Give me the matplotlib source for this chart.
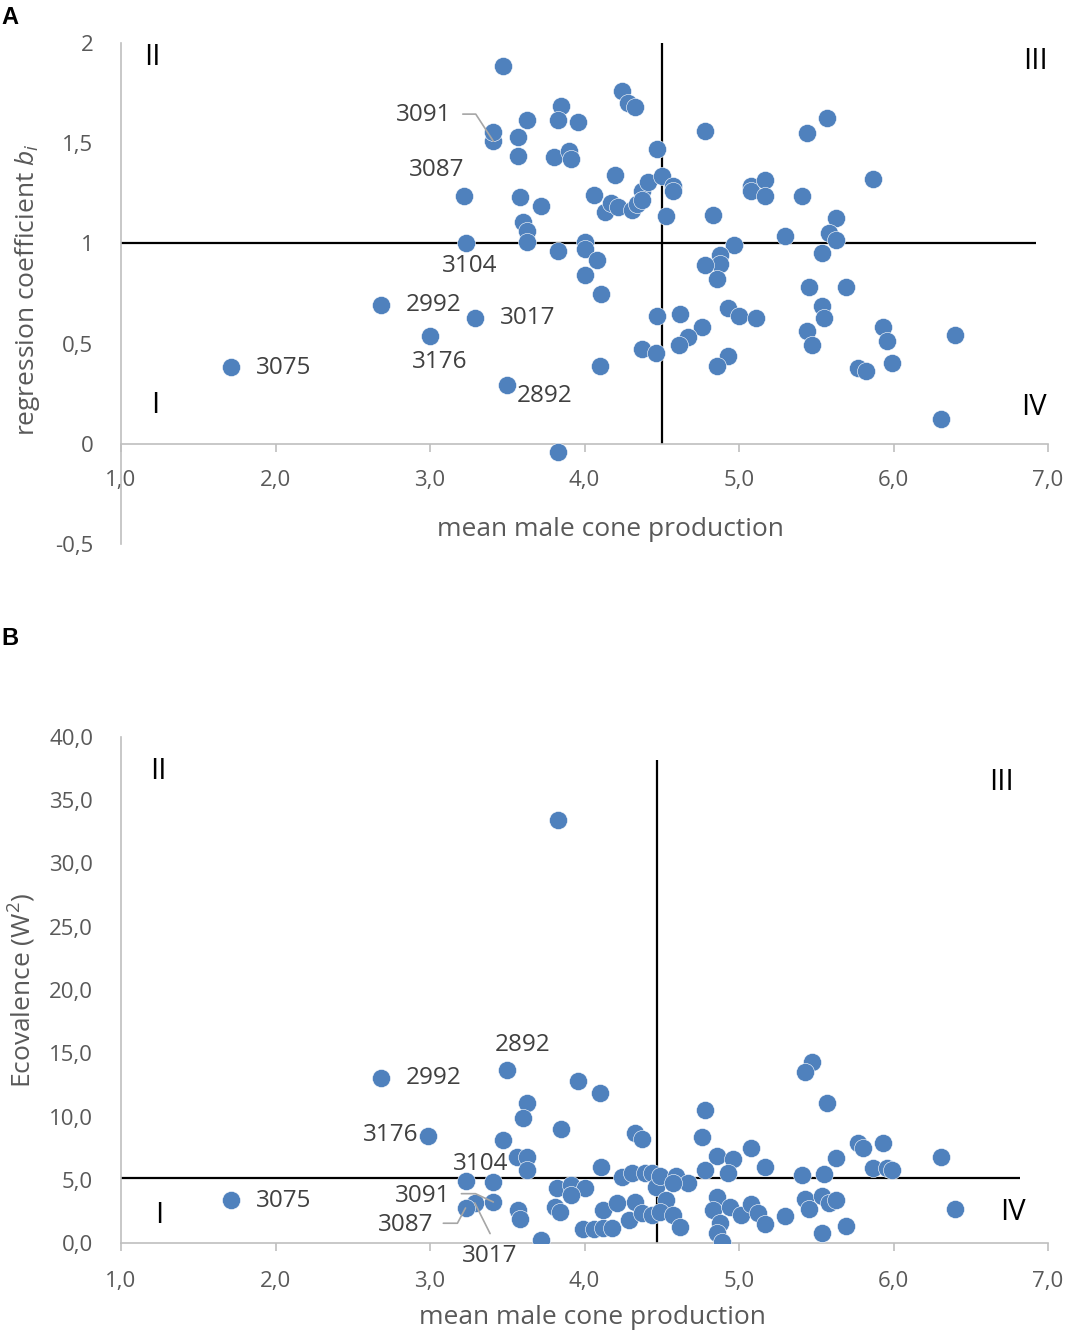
import matplotlib
matplotlib.use('Agg')
import matplotlib.pyplot as plt

# labelled clones come first in every array below
clones = ['3075', '2992', '3176', '3017', '3104', '3087', '3091', '2892']

# panel A: mean male cone production vs regression coefficient b_i
xa = [1.71, 2.68, 3.00, 3.29, 3.23, 3.22, 3.41, 3.50,
      3.47, 3.41, 3.57, 3.57, 3.63, 3.85, 3.83, 3.96, 3.80, 3.90, 3.91,
      4.24, 4.28, 4.33, 4.47, 4.20, 3.58, 3.72, 3.60, 3.63, 3.63, 3.83,
      4.00, 4.00, 4.08, 4.00, 4.11, 4.06, 4.13, 4.17, 4.22, 4.31, 4.34,
      4.37, 4.41, 4.37, 4.50, 4.57, 4.57, 4.53, 4.78, 4.83, 4.97, 4.88,
      4.88, 4.78, 4.86, 5.08, 5.08, 5.17, 5.17, 5.30, 5.41, 5.44, 5.57,
      5.63, 5.58, 5.63, 5.54, 5.87, 5.45, 5.69, 5.54, 5.55, 5.44, 5.47,
      5.93, 5.96, 5.77, 5.82, 5.99, 6.40, 6.31, 4.47, 4.62, 4.76, 4.67,
      4.61, 4.37, 4.46, 4.93, 5.00, 5.11, 4.93, 4.86, 4.10, 3.83]
ba = [0.385, 0.695, 0.54, 0.63, 1.00, 1.235, 1.51, 0.295,
      1.885, 1.555, 1.53, 1.435, 1.615, 1.685, 1.615, 1.605, 1.43, 1.46, 1.42,
      1.76, 1.70, 1.68, 1.47, 1.34, 1.23, 1.185, 1.105, 1.06, 1.005, 0.96,
      1.005, 0.97, 0.915, 0.84, 0.75, 1.24, 1.155, 1.20, 1.18, 1.165, 1.195,
      1.26, 1.305, 1.215, 1.335, 1.285, 1.26, 1.135, 1.56, 1.14, 0.99, 0.94,
      0.895, 0.89, 0.82, 1.285, 1.26, 1.315, 1.235, 1.035, 1.235, 1.55, 1.625,
      1.125, 1.05, 1.015, 0.95, 1.32, 0.78, 0.78, 0.69, 0.63, 0.565, 0.495,
      0.585, 0.515, 0.38, 0.365, 0.405, 0.545, 0.125, 0.64, 0.65, 0.585, 0.535,
      0.495, 0.475, 0.455, 0.68, 0.64, 0.63, 0.44, 0.39, 0.39, -0.04]

# panel B: mean male cone production vs ecovalence W2
xb = [1.71, 2.68, 2.99, 3.29, 3.23, 3.23, 3.41, 3.50,
      3.47, 3.63, 3.60, 3.96, 4.10, 3.85, 4.33, 4.37, 3.56, 3.63, 3.63,
      4.11, 3.41, 3.57, 3.58, 3.72, 3.82, 3.91, 4.00, 3.91, 3.81, 3.84,
      3.99, 4.06, 4.12, 4.18, 4.12, 4.21, 4.33, 4.29, 4.37, 4.44, 4.24,
      4.31, 4.39, 4.44, 4.46, 4.49, 4.59, 4.67, 4.57, 4.53, 4.49, 4.57,
      4.62, 5.47, 5.43, 5.57, 4.78, 4.76, 5.08, 4.86, 4.96, 5.17, 4.78,
      4.93, 5.63, 5.77, 5.80, 5.93, 6.31, 5.41, 5.55, 5.87, 5.96, 5.99,
      4.86, 4.83, 4.94, 5.01, 4.88, 4.86, 4.89, 5.08, 5.12, 5.17, 5.30,
      5.43, 5.45, 5.54, 5.58, 5.63, 5.54, 5.69, 6.40, 3.83]
wb = [3.40, 13.04, 8.46, 3.16, 4.90, 2.77, 3.24, 13.68,
      8.14, 11.07, 9.88, 12.81, 11.86, 9.01, 8.70, 8.22, 6.80, 6.80, 5.77,
      6.01, 4.82, 2.61, 1.90, 0.24, 4.35, 4.58, 4.35, 3.79, 2.85, 2.45,
      1.11, 1.11, 1.19, 1.19, 2.61, 3.16, 3.24, 1.82, 2.37, 2.21, 5.22,
      5.53, 5.53, 5.53, 4.43, 5.30, 5.30, 4.74, 4.74, 3.40, 2.45, 2.21,
      1.26, 14.31, 13.52, 11.07, 10.51, 8.38, 7.51, 6.88, 6.64, 6.01, 5.77,
      5.53, 6.72, 7.91, 7.51, 7.91, 6.80, 5.38, 5.45, 5.93, 5.93, 5.77,
      3.64, 2.61, 2.85, 2.21, 1.58, 0.79, 0.08, 3.08, 2.37, 1.50, 2.13,
      3.48, 2.69, 3.72, 3.16, 3.40, 0.79, 1.34, 2.69, 33.44]

# reference lines (grand mean, b = 1, mean ecovalence)
mean_a = 4.5
b_ref = 1.0
mean_b = 4.47
w_ref = 5.15

xticks = [1, 2, 3, 4, 5, 6, 7]
xtick_labels = ['1,0', '2,0', '3,0', '4,0', '5,0', '6,0', '7,0']
yticks_a = [-0.5, 0, 0.5, 1, 1.5, 2]
ytick_labels_a = ['-0,5', '0', '0,5', '1', '1,5', '2']
yticks_b = [0, 5, 10, 15, 20, 25, 30, 35, 40]
ytick_labels_b = ['0,0', '5,0', '10,0', '15,0', '20,0', '25,0', '30,0', '35,0', '40,0']

plt.rcParams['font.family'] = ['Open Sans', 'DejaVu Sans']
plt.rcParams['mathtext.fontset'] = 'custom'
plt.rcParams['mathtext.it'] = 'Open Sans:italic'
plt.rcParams['mathtext.rm'] = 'Open Sans'

blue = '#4F81BD'
grey_axis = '#BFBFBF'
grey_txt = '#595959'
lab_txt = '#404040'
fs = 16       # tick labels
fs_lab = 17.5 # point labels
fs_ax = 19    # axis titles

W, H = 1066, 1333
fig = plt.figure(figsize=(W / 100, H / 100), dpi=100)


def style_axes(ax, yticks, ylabels, xpad):
    ax.set_xlim(1, 7)
    ax.spines['top'].set_visible(False)
    ax.spines['right'].set_visible(False)
    for s in ['left', 'bottom']:
        ax.spines[s].set_color(grey_axis)
        ax.spines[s].set_linewidth(1.2)
    ax.set_xticks(xticks)
    ax.set_xticklabels(xtick_labels)
    ax.set_yticks(yticks)
    ax.set_yticklabels(ylabels)
    ax.tick_params(axis='x', direction='out', length=6, width=1.2,
                   color=grey_axis, labelcolor=grey_txt, labelsize=fs, pad=xpad)
    ax.tick_params(axis='y', length=0, labelcolor=grey_txt, labelsize=fs, pad=20)


def label_points(ax, xs, ys, offsets, leaders):
    for i, name in enumerate(clones):
        dx, dy = offsets[name]
        ax.annotate(name, (xs[i], ys[i]), xytext=(dx, dy), textcoords='offset points',
                    ha='center', va='center', fontsize=fs_lab, color=lab_txt, zorder=5)
        if name in leaders:
            lx, ly, cs = leaders[name]
            ax.annotate('', (xs[i], ys[i]), xytext=(lx, ly), textcoords='offset points',
                        arrowprops=dict(arrowstyle='-', color='#A6A6A6', lw=1.2,
                                        shrinkA=0, shrinkB=0, connectionstyle=cs),
                        zorder=4)


# ---------------- panel A ----------------
axa = fig.add_axes([121 / W, 1 - 544 / H, 927 / W, 501 / H])
axa.set_ylim(-0.5, 2)
style_axes(axa, yticks_a, ytick_labels_a, 13)
axa.spines['bottom'].set_position(('data', 0))
axa.hlines(b_ref, 1, 6.92, color='black', lw=1.6, zorder=2)
axa.vlines(mean_a, 0, 2, color='black', lw=1.6, zorder=2)
axa.scatter(xa, ba, s=170, color=blue, edgecolors='white', linewidths=0.4, zorder=3)

off_a = {'3075': (38, -1), '2992': (38, 0), '3176': (7, -19), '3017': (38, 0),
         '3104': (3, -16), '3087': (-20, 19), '3091': (-50, 19), '2892': (27, -8)}
lead_a = {'3091': (-22, 19.5, 'angle,angleA=0,angleB=-57,rad=0')}
label_points(axa, xa, ba, off_a, lead_a)

for txt, qx, qy in [('II', 1.2, 1.93), ('III', 6.92, 1.91), ('I', 1.22, 0.19), ('IV', 6.91, 0.18)]:
    axa.text(qx, qy, txt, fontsize=21, color='black', ha='center', va='center')

fig.text(610 / W, 1 - 530 / H, 'mean male cone production', fontsize=fs_ax,
         color=grey_txt, ha='center', va='center')
fig.text(28 / W, 1 - 290 / H, 'regression coefficient $b_i$', fontsize=fs_ax,
         color=grey_txt, ha='center', va='center', rotation=90)
fig.text(10 / W, 1 - 17 / H, 'A', fontsize=17, fontweight='bold',
         family='Liberation Sans', ha='center', va='center')

# ---------------- panel B ----------------
axb = fig.add_axes([121 / W, 1 - 1243 / H, 927 / W, 506 / H])
axb.set_ylim(0, 40)
style_axes(axb, yticks_b, ytick_labels_b, 14)
axb.hlines(w_ref, 1, 6.82, color='black', lw=1.6, zorder=2)
axb.vlines(mean_b, 0, 38.2, color='black', lw=1.6, zorder=2)
axb.scatter(xb, wb, s=170, color=blue, edgecolors='white', linewidths=0.4, zorder=3)

off_b = {'3075': (38, -1), '2992': (38, 0), '3176': (-27, 1), '3017': (11, -38),
         '3104': (11, 12), '3087': (-43, -12), '3091': (-51, 4), '2892': (11, 18)}
lead_b = {'3091': (-23, 6, 'angle,angleA=0,angleB=-25,rad=0'),
          '3087': (-16, -11, 'angle,angleA=0,angleB=62,rad=0'),
          '3017': (11, -22, 'arc3')}
label_points(axb, xb, wb, off_b, lead_b)

for txt, qx, qy in [('II', 1.24, 37.3), ('III', 6.70, 36.4), ('I', 1.25, 2.2), ('IV', 6.77, 2.4)]:
    axb.text(qx, qy, txt, fontsize=21, color='black', ha='center', va='center')

fig.text(592 / W, 1 - 1318 / H, 'mean male cone production', fontsize=fs_ax,
         color=grey_txt, ha='center', va='center')
fig.text(22 / W, 1 - 990 / H, 'Ecovalence (W$^2$)', fontsize=fs_ax,
         color=grey_txt, ha='center', va='center', rotation=90)
fig.text(10 / W, 1 - 638 / H, 'B', fontsize=17, fontweight='bold',
         family='Liberation Sans', ha='center', va='center')

fig.savefig('out.png', dpi=100)
